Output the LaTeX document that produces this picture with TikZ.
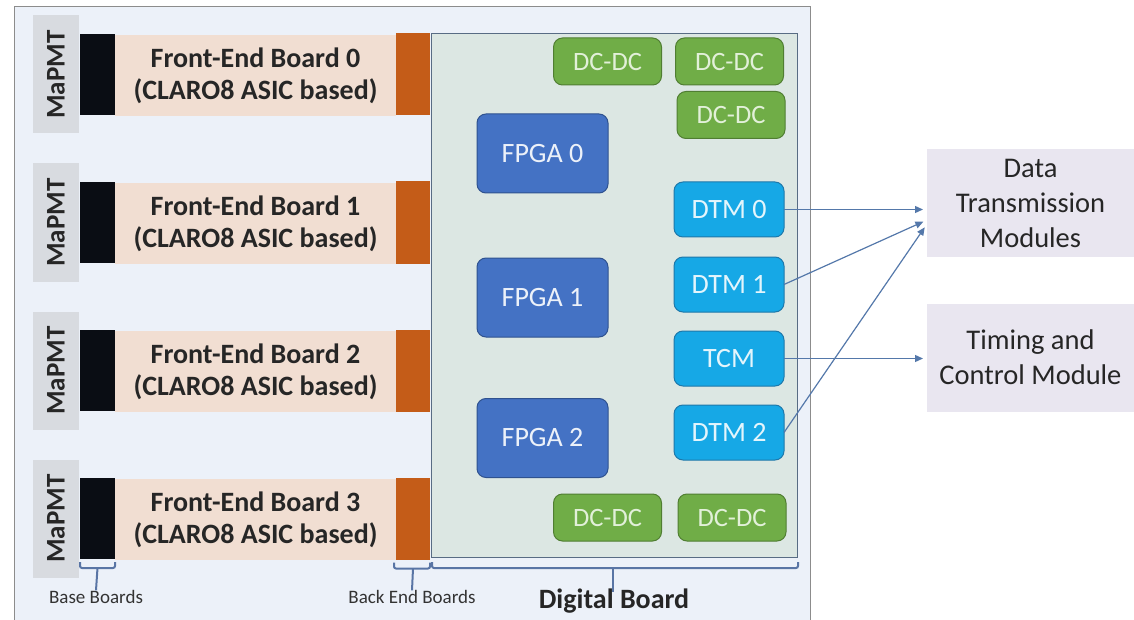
\documentclass[tikz,border=0pt]{standalone}
\usepackage{fontspec}
\setmainfont{Carlito}
\usetikzlibrary{calc,positioning,arrows.meta}
\definecolor{panelbg}{RGB}{236,241,249}
\definecolor{pmtgray}{RGB}{216,219,224}
\definecolor{baseblk}{RGB}{10,13,20}
\definecolor{febeige}{RGB}{241,222,210}
\definecolor{beorange}{RGB}{196,92,24}
\definecolor{digbg}{RGB}{220,231,227}
\definecolor{digline}{RGB}{88,108,132}
\definecolor{dcgreen}{RGB}{112,173,71}
\definecolor{dcline}{RGB}{80,126,50}
\definecolor{dctext}{RGB}{226,240,217}
\definecolor{fpgablue}{RGB}{68,114,196}
\definecolor{fpgaline}{RGB}{47,82,143}
\definecolor{dtmblue}{RGB}{22,168,230}
\definecolor{dtmline}{RGB}{30,120,170}
\definecolor{modbg}{RGB}{233,230,240}
\definecolor{arrblue}{RGB}{84,120,170}

\begin{document}
\begin{tikzpicture}[x=1pt,y=-1pt,
  blk/.style={inner sep=0pt,outer sep=0pt},
  pmt/.style={blk,fill=pmtgray,rotate=90,minimum width=118pt,minimum height=46pt,font=\bfseries\fontsize{27}{30}\selectfont,text=black!85},
  base/.style={blk,fill=baseblk,minimum width=35pt,minimum height=81pt},
  feb/.style={blk,fill=febeige,minimum width=281pt,minimum height=81pt,align=center,font=\bfseries\fontsize{28}{32}\selectfont,text=black!85},
  beb/.style={blk,fill=beorange,minimum width=34pt,minimum height=82pt},
  chip/.style={blk,rounded corners=9pt,line width=1pt,align=center},
  dcdc/.style={chip,fill=dcgreen,draw=dcline,text=dctext,minimum width=108pt,minimum height=47pt,font=\fontsize{26.5}{30}\selectfont},
  fpga/.style={chip,fill=fpgablue,draw=fpgaline,text=white!90!fpgablue,minimum width=131pt,minimum height=79pt,font=\fontsize{28}{30}\selectfont},
  dtm/.style={chip,fill=dtmblue,draw=dtmline,text=white!88!dtmblue,minimum width=110pt,minimum height=55pt,font=\fontsize{28}{30}\selectfont},
  modbox/.style={blk,fill=modbg,minimum width=207pt,minimum height=108pt,align=center,font=\fontsize{28.5}{35}\selectfont,text=black!85},
  arr/.style={draw=arrblue,line width=1.2pt,-{Triangle[length=8pt,width=7pt]},shorten >=4pt},
  brk/.style={draw=fpgaline!80!white,line width=2pt,rounded corners=2pt},
  lbl/.style={blk,font=\fontsize{19}{21}\selectfont,text=black!80}]
\useasboundingbox (0,0) rectangle (1134,620);
% outer frame
\fill[panelbg] (14,7) rectangle (810,630);
\draw[black!45,line width=1pt] (14,630) -- (14,7) -- (810,7) -- (810,630);

% front-end rows
\foreach \i in {0,...,3}{
  \pgfmathsetmacro\yy{74.5+148*\i}
  \node[pmt] (pmt\i) at (56,\yy) {MaPMT};
  \node[base] (base\i) at (97.5,\yy) {};
  \node[feb] (feb\i) at (255.5,\yy+1) {Front-End Board \i\\(CLARO8 ASIC based)};
  \node[beb] (beb\i) at (413,\yy) {};
}

% digital board
\node[blk,fill=digbg,draw=digline,line width=1pt,minimum width=366pt,minimum height=523pt] (dig) at (614,295.5) {};
\node[dcdc] (dc0) at (607.5,61.5) {DC-DC};
\node[dcdc] (dc1) at (729.5,61.5) {DC-DC};
\node[dcdc] (dc2) at (731,115) {DC-DC};
\node[dcdc] (dc3) at (607.5,517.5) {DC-DC};
\node[dcdc] (dc4) at (732,517.5) {DC-DC};
\node[fpga] (fpga0) at (542.5,153.5) {FPGA 0};
\node[fpga] (fpga1) at (542.5,297.5) {FPGA 1};
\node[fpga] (fpga2) at (542.5,438) {FPGA 2};
\node[dtm] (dtm0) at (729,209.5) {DTM 0};
\node[dtm] (dtm1) at (729,284.5) {DTM 1};
\node[dtm] (tcm) at (729,358.5) {TCM};
\node[dtm] (dtm2) at (729,432.5) {DTM 2};

% modules outside
\node[modbox] (dtms) at (1030.5,203) {Data\\Transmission\\Modules};
\node[modbox] (tcmod) at (1030.5,357.5) {Timing and\\Control Module};

\draw[arr] (dtm0.east) -- (dtm0.east -| dtms.west);
\draw[arr] (dtm1.east) -- ($(dtms.west)+(0,17)$);
\draw[arr] (dtm2.east) -- ($(dtms.west)+(0,21)$);
\draw[arr] (tcm.east) -- (tcm.east -| tcmod.west);

% brackets and labels
\node[lbl] (lbase) at (96,597) {Base Boards};
\node[lbl] (lback) at (412,597) {Back End Boards};
\node[blk,font=\bfseries\fontsize{28}{30}\selectfont,text=black!85] (ldig) at (614,601) {Digital Board};
\draw[brk] ($(base3.south west)+(0,3)$) -- ++(0,6) -| ($(base3.south east)+(0,3)$);
\draw[brk] ($(base3.south)+(0,9)$) -- (lbase.north);
\draw[brk] ($(beb3.south west)+(-2,3)$) -- ++(0,6) -| ($(beb3.south east)+(0,3)$);
\draw[brk] ($(beb3.south)+(0,9)$) -- (lback.north);
\draw[brk] ($(dig.south west)+(1,5)$) -- ++(0,6) -| ($(dig.south east)+(1,5)$);
\draw[brk] ($(dig.south)+(-1,11)$) -- ($(ldig.north)+(-1,3)$);
\end{tikzpicture}
\end{document}
